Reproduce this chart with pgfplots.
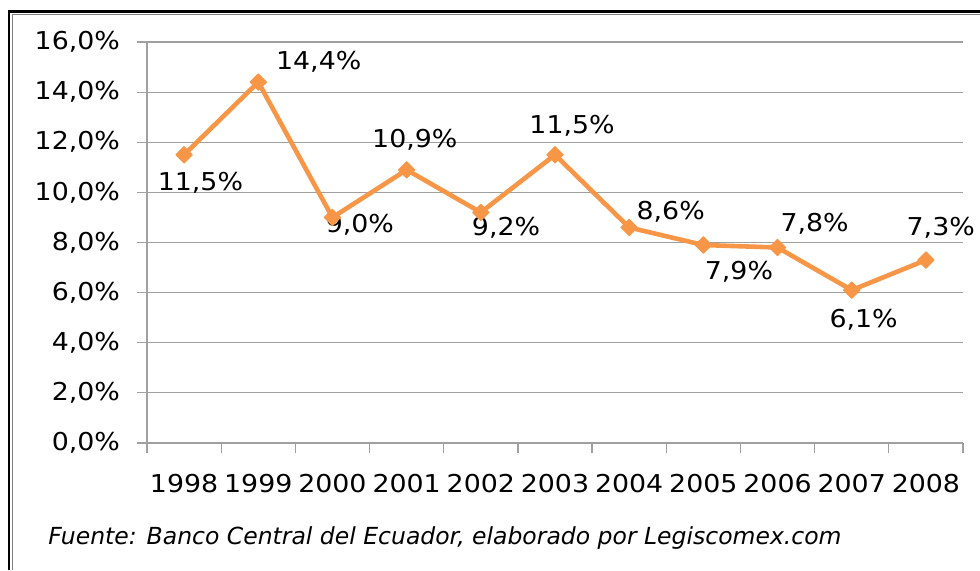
\documentclass[border=0pt]{standalone}
\usepackage{pgfplots}
\pgfplotsset{compat=1.18}
\usepackage{fontspec}
\setmainfont{DejaVu Sans}[FakeStretch=1.09]
\newfontfamily\capfont{DejaVu Sans}
\definecolor{lineor}{HTML}{F79646}
\definecolor{gridg}{HTML}{A0A0A0}
\begin{document}
\begin{tikzpicture}
\path[use as bounding box] (0pt,0pt) rectangle (490pt,285pt);
% frame
\draw[black,line width=1.4pt] (4.5pt,0pt) -- (4.5pt,279.25pt) -- (490pt,279.25pt);
\draw[gray,line width=0.6pt] (6.25pt,0pt) -- (6.25pt,277.75pt) -- (490pt,277.75pt);
\begin{axis}[
  at={(73.5pt,63.5pt)}, anchor=south west,
  scale only axis, width=408pt, height=200.5pt,
  xmin=-0.5, xmax=10.5, ymin=0, ymax=16,
  clip=false,
  axis line style={draw=none},
  xtick pos=bottom, ytick pos=left,
  xtick={-0.5,0.5,1.5,2.5,3.5,4.5,5.5,6.5,7.5,8.5,9.5,10.5},
  xticklabels={1998,1999,2000,2001,2002,2003,2004,2005,2006,2007,2008},
  x tick label as interval,
  ytick={0,2,4,6,8,10,12,14,16},
  yticklabels={{0,0\%},{2,0\%},{4,0\%},{6,0\%},{8,0\%},{10,0\%},{12,0\%},{14,0\%},{16,0\%}},
  tick align=outside, major tick length=5pt,
  tick style={gridg, line width=0.6pt},
  ymajorgrids, grid style={gridg, line width=0.6pt},
  ticklabel style={font=\fontsize{12.3}{14}\selectfont, text=black},
  yticklabel style={xshift=-5pt},
  xticklabel style={yshift=-7pt},
]
\draw[gridg, line width=0.6pt] (axis cs:-0.5,16) -- (axis cs:-0.5,0) -- (axis cs:10.5,0);
\addplot[lineor, line width=2.3pt, line join=round, mark=square*, mark size=2.9pt,
  mark options={rotate=45, fill=lineor, line width=0.5pt}]
  coordinates {(0,11.5) (1,14.4) (2,9.0) (3,10.9) (4,9.2) (5,11.5) (6,8.6) (7,7.9) (8,7.8) (9,6.1) (10,7.3)};
\begin{scope}[every node/.style={font=\fontsize{12.3}{14}\selectfont, anchor=center, inner sep=0pt}]
\node at (axis cs:0.22,10.37) {11,5\%};
\node at (axis cs:1.815,15.2) {14,4\%};
\node at (axis cs:2.37,8.70) {9,0\%};
\node at (axis cs:3.11,12.09) {10,9\%};
\node at (axis cs:4.34,8.58) {9,2\%};
\node at (axis cs:5.23,12.65) {11,5\%};
\node at (axis cs:6.56,9.22) {8,6\%};
\node at (axis cs:7.48,6.82) {7,9\%};
\node at (axis cs:8.50,8.74) {7,8\%};
\node at (axis cs:9.16,4.91) {6,1\%};
\node at (axis cs:10.20,8.58) {7,3\%};
\end{scope}
\end{axis}
\node[anchor=west, inner sep=0pt, font=\capfont\fontsize{11.75}{14}\selectfont\itshape] at (24pt,16pt) {Fuente: Banco Central del Ecuador, elaborado por Legiscomex.com};
\end{tikzpicture}
\end{document}
